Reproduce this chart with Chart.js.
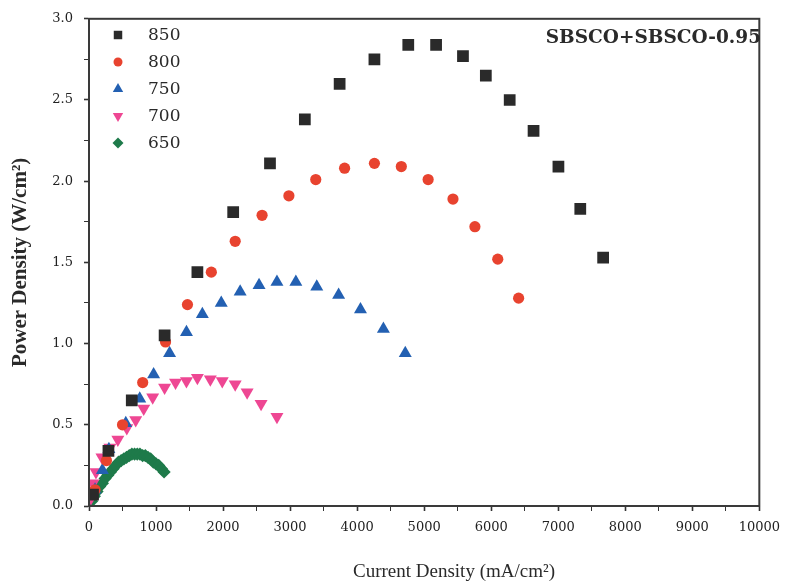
<!DOCTYPE html>
<html>
<head>
<meta charset="utf-8">
<script src="https://cdn.jsdelivr.net/npm/chart.js@4/dist/chart.umd.min.js"></script>
<style>
  html, body { margin: 0; padding: 0; background: #ffffff; }
  #wrap { width: 789px; height: 586px; }
</style>
</head>
<body>
<div id="wrap"><canvas id="c" width="789" height="586"></canvas></div>
<script>
// ---- Data ----
const seriesLabels = ['850', '800', '750', '700', '650'];

const current850 = [60, 290, 638, 1128, 1617, 2151, 2700, 3220, 3739, 4258, 4763, 5178, 5579, 5920, 6276, 6632, 7003, 7329, 7670];
const power850   = [0.07, 0.34, 0.65, 1.05, 1.44, 1.81, 2.11, 2.38, 2.60, 2.75, 2.84, 2.84, 2.77, 2.65, 2.50, 2.31, 2.09, 1.83, 1.53];

const current800 = [90, 260, 500, 801, 1142, 1469, 1825, 2181, 2582, 2982, 3383, 3813, 4258, 4659, 5059, 5430, 5757, 6098, 6409];
const power800   = [0.10, 0.28, 0.50, 0.76, 1.01, 1.24, 1.44, 1.63, 1.79, 1.91, 2.01, 2.08, 2.11, 2.09, 2.01, 1.89, 1.72, 1.52, 1.28];

const current750 = [90, 200, 297, 549, 757, 964, 1202, 1454, 1691, 1973, 2255, 2537, 2804, 3086, 3398, 3724, 4050, 4392, 4718];
const power750   = [0.10, 0.22, 0.35, 0.51, 0.66, 0.81, 0.94, 1.07, 1.18, 1.25, 1.32, 1.36, 1.38, 1.38, 1.35, 1.30, 1.21, 1.09, 0.94];

const current700 = [30, 59, 104, 193, 312, 430, 564, 697, 816, 950, 1128, 1291, 1454, 1617, 1810, 1988, 2181, 2359, 2567, 2804];
const power700   = [0.05, 0.14, 0.21, 0.30, 0.36, 0.41, 0.48, 0.53, 0.60, 0.67, 0.73, 0.76, 0.77, 0.79, 0.78, 0.77, 0.75, 0.70, 0.63, 0.55];

const current650 = [0, 40, 80, 120, 160, 200, 240, 280, 320, 360, 400, 440, 480, 520, 560, 600, 640, 680, 720, 760, 800, 840, 880, 920, 960, 1000, 1040, 1080, 1120];
const power650   = [0.00, 0.03, 0.06, 0.09, 0.12, 0.14, 0.17, 0.19, 0.21, 0.23, 0.25, 0.27, 0.28, 0.29, 0.30, 0.31, 0.32, 0.32, 0.32, 0.32, 0.31, 0.31, 0.30, 0.29, 0.27, 0.26, 0.25, 0.23, 0.21];

const xTickValues = [0, 1000, 2000, 3000, 4000, 5000, 6000, 7000, 8000, 9000, 10000];
const yTickValues = [0.0, 0.5, 1.0, 1.5, 2.0, 2.5, 3.0];
const annotationText = 'SBSCO+SBSCO-0.95';
const xTitleText = 'Current Density (mA/cm²)';
const yTitleText = 'Power Density (W/cm²)';

// ---- Build datasets ----
function pts(xs, ys) { return xs.map((x, i) => ({ x: x, y: ys[i] })); }

const styles = [
  { color: '#2a2a2a', pointStyle: 'rect',     radius: 8.3, rotation: 0,   legendRadius: 6 },
  { color: '#e8432f', pointStyle: 'circle',   radius: 5.6, rotation: 0,   legendRadius: 4.5 },
  { color: '#2360b2', pointStyle: 'triangle', radius: 7.5, rotation: 0,   legendRadius: 6 },
  { color: '#ee4793', pointStyle: 'triangle', radius: 7.5, rotation: 180, legendRadius: 6 },
  { color: '#1e7a4a', pointStyle: 'rectRot',  radius: 6.6, rotation: 0,   legendRadius: 5.5 }
];
const allData = [
  pts(current850, power850),
  pts(current800, power800),
  pts(current750, power750),
  pts(current700, power700),
  pts(current650, power650)
];

const datasets = seriesLabels.map((lab, i) => ({
  label: lab,
  data: allData[i],
  showLine: false,
  pointStyle: styles[i].pointStyle,
  pointRadius: styles[i].radius,
  pointRotation: styles[i].rotation,
  pointBackgroundColor: styles[i].color,
  pointBorderColor: styles[i].color,
  pointBorderWidth: 0,
  backgroundColor: styles[i].color,
  borderColor: styles[i].color
}));

// ---- Plugins ----
const framePlugin = {
  id: 'frame',
  afterDatasetsDraw(chart) {
    const a = chart.chartArea, ctx = chart.ctx;
    ctx.save();
    ctx.strokeStyle = '#3a3a3a';
    ctx.lineWidth = 2;
    ctx.strokeRect(a.left, a.top, a.right - a.left, a.bottom - a.top);
    ctx.restore();
  }
};

const legendPlugin = {
  id: 'innerLegend',
  afterDraw(chart) {
    const ctx = chart.ctx;
    ctx.save();
    const rows = [35, 62, 89, 116, 143];
    chart.data.datasets.forEach((ds, i) => {
      ctx.fillStyle = styles[i].color;
      ctx.strokeStyle = styles[i].color;
      Chart.helpers.drawPoint(ctx, {
        pointStyle: styles[i].pointStyle,
        radius: styles[i].legendRadius,
        rotation: styles[i].rotation,
        borderWidth: 0
      }, 118, rows[i]);
      ctx.fillStyle = '#2a2a2a';
      ctx.font = '17px "DejaVu Serif"';
      ctx.textBaseline = 'middle';
      ctx.textAlign = 'left';
      ctx.fillText(ds.label, 148, rows[i] + 1);
    });
    ctx.font = 'bold 18.5px "DejaVu Serif"';
    ctx.textAlign = 'right';
    ctx.textBaseline = 'middle';
    ctx.fillStyle = '#2a2a2a';
    ctx.fillText(annotationText, 761, 38);
    // x-axis title (placed like the reference, slightly right of centre)
    ctx.font = '19px "Liberation Serif"';
    ctx.textAlign = 'center';
    ctx.textBaseline = 'middle';
    ctx.fillText(xTitleText, 454, 572);
    ctx.restore();
  }
};

const tickFont = { family: '"DejaVu Serif"', size: 13 };

new Chart(document.getElementById('c'), {
  type: 'scatter',
  data: { datasets: datasets },
  options: {
    responsive: false,
    animation: false,
    devicePixelRatio: 1,
    layout: { padding: { left: 5, top: 18, right: 25, bottom: 0 } },
    plugins: { legend: { display: false }, tooltip: { enabled: false } },
    scales: {
      x: {
        type: 'linear',
        min: 0, max: 10000,
        afterBuildTicks(scale) {
          const t = [];
          for (let v = 0; v <= 10000; v += 500) t.push({ value: v });
          scale.ticks = t;
        },
        afterFit(scale) { scale.height = 80; },
        ticks: {
          autoSkip: false, maxRotation: 0, padding: 9,
          color: '#222222', font: tickFont,
          callback: (v) => xTickValues.includes(v) ? String(v) : ''
        },
        grid: {
          drawOnChartArea: false, drawTicks: true, tickLength: 5,
          tickColor: '#333333',
          tickWidth: (c) => (c.tick && c.tick.value % 1000 === 0) ? 1.6 : 1
        },
        border: { display: true, color: '#3a3a3a', width: 2 },
        title: { display: false }
      },
      y: {
        type: 'linear',
        min: 0, max: 3,
        afterBuildTicks(scale) {
          const t = [];
          for (let k = 0; k <= 12; k++) t.push({ value: k * 0.25 });
          scale.ticks = t;
        },
        afterFit(scale) { scale.width = 84; },
        ticks: {
          autoSkip: false, padding: 11,
          color: '#222222', font: tickFont,
          callback: (v) => {
            const m = yTickValues.find(t => Math.abs(t - v) < 1e-9);
            return m !== undefined ? m.toFixed(1) : '';
          }
        },
        grid: {
          drawOnChartArea: false, drawTicks: true, tickLength: 5,
          tickColor: '#333333',
          tickWidth: (c) => (c.tick && Math.abs((c.tick.value * 2) % 1) < 1e-9) ? 1.6 : 1
        },
        border: { display: true, color: '#3a3a3a', width: 2 },
        title: {
          display: true, text: yTitleText,
          color: '#2a2a2a',
          font: { family: '"Liberation Serif"', size: 21, weight: 'bold' },
          padding: { top: 3, bottom: 0 }
        }
      }
    }
  },
  plugins: [framePlugin, legendPlugin]
});
</script>
</body>
</html>
